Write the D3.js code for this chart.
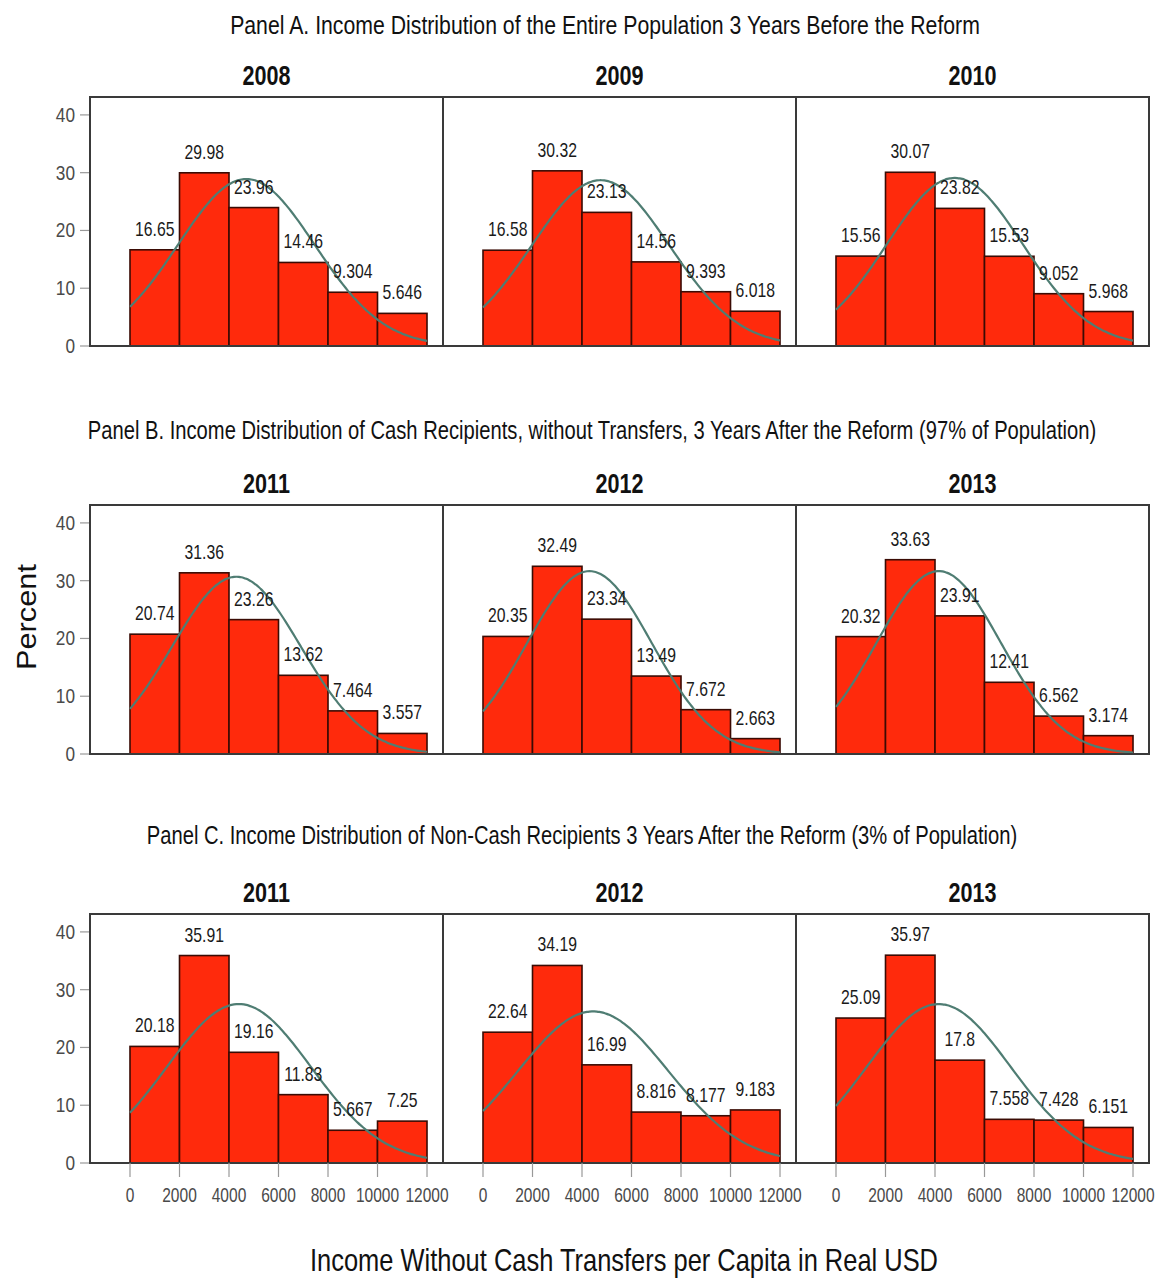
<!DOCTYPE html>
<html lang="en">
<head>
<meta charset="UTF-8">
<title>Income Distribution</title>
<script src="https://d3js.org/d3.v7.min.js"></script>
<style>
  body { margin: 0; background: #fff; }
  text { font-family: "Liberation Sans", Arial, sans-serif; }
</style>
</head>
<body>
<div id="chart"></div>
<script>
// ---- data ----
const binEdges = [0, 2000, 4000, 6000, 8000, 10000, 12000];
const xTicks = [0, 2000, 4000, 6000, 8000, 10000, 12000];
const yTicks = [0, 10, 20, 30, 40];

const panelTitles = [
  "Panel A. Income Distribution of the Entire Population 3 Years Before the Reform",
  "Panel B. Income Distribution of Cash Recipients, without Transfers, 3 Years After the Reform (97% of Population)",
  "Panel C. Income Distribution of Non-Cash Recipients 3 Years After the Reform (3% of Population)"
];
const yearsA = ["2008", "2009", "2010"];
const yearsB = ["2011", "2012", "2013"];
const yearsC = ["2011", "2012", "2013"];

const percentA = [
  [16.65, 29.98, 23.96, 14.46, 9.304, 5.646],
  [16.58, 30.32, 23.13, 14.56, 9.393, 6.018],
  [15.56, 30.07, 23.82, 15.53, 9.052, 5.968]
];
const percentB = [
  [20.74, 31.36, 23.26, 13.62, 7.464, 3.557],
  [20.35, 32.49, 23.34, 13.49, 7.672, 2.663],
  [20.32, 33.63, 23.91, 12.41, 6.562, 3.174]
];
const percentC = [
  [20.18, 35.91, 19.16, 11.83, 5.667, 7.25],
  [22.64, 34.19, 16.99, 8.816, 8.177, 9.183],
  [25.09, 35.97, 17.8, 7.558, 7.428, 6.151]
];

// fitted normal curves (mean, sd of income)
const curveMeanA = [4700, 4750, 4800];
const curveSdA = [2760, 2780, 2742];
const curveMeanB = [4300, 4300, 4150];
const curveSdB = [2600, 2520, 2520];
const curveMeanC = [4400, 4450, 4150];
const curveSdC = [2900, 3040, 2900];

const rows = [
  { title: panelTitles[0], years: yearsA, pct: percentA, mu: curveMeanA, sd: curveSdA },
  { title: panelTitles[1], years: yearsB, pct: percentB, mu: curveMeanB, sd: curveSdB },
  { title: panelTitles[2], years: yearsC, pct: percentC, mu: curveMeanC, sd: curveSdC }
];

// ---- layout ----
const W = 1164, H = 1278;
const facetLeft = 90, facetW = 353;
const rowTop = [97, 505, 914];
const rowH = 249;
const titleY = [34, 439, 844];
const titleCx = [605, 592, 582];
const titleLen = [750, 1009, 871];
const yearY = [84, 492, 901];

const svg = d3.select("#chart").append("svg")
  .attr("width", W).attr("height", H);

const x = d3.scaleLinear().domain([-1616, 12646]).range([0, facetW]);
const y = d3.scaleLinear().domain([0, 43.1]).range([rowH, 0]);

const binW = binEdges[1] - binEdges[0];
const density = (v, mu, sd) =>
  100 * binW * Math.exp(-((v - mu) ** 2) / (2 * sd * sd)) / (sd * Math.sqrt(2 * Math.PI));

// squeeze a text horizontally to a given width (condensed look of the original)
function fitWidth(sel, cx, cy, target, rot) {
  const len = sel.node().getComputedTextLength();
  const k = target / len;
  sel.attr("transform", `translate(${cx},${cy})${rot ? " rotate(" + rot + ")" : ""} scale(${k},1)`);
}

rows.forEach((row, r) => {
  // panel title
  const pt = svg.append("text")
    .attr("text-anchor", "middle")
    .attr("font-size", 26)
    .attr("fill", "#111")
    .text(row.title);
  fitWidth(pt, titleCx[r], titleY[r], titleLen[r]);

  // y axis (left of the row)
  const yAxisG = svg.append("g").attr("transform", `translate(${facetLeft},${rowTop[r]})`);
  yTicks.forEach(t => {
    yAxisG.append("line")
      .attr("x1", -10).attr("x2", 0)
      .attr("y1", y(t)).attr("y2", y(t))
      .attr("stroke", "#999").attr("stroke-width", 1.2);
    yAxisG.append("text")
      .attr("transform", `translate(-15,${y(t) + 7}) scale(0.82,1)`)
      .attr("text-anchor", "end")
      .attr("font-size", 21)
      .attr("fill", "#4a4a4a")
      .text(t);
  });

  row.years.forEach((yr, f) => {
    const g = svg.append("g")
      .attr("transform", `translate(${facetLeft + f * facetW},${rowTop[r]})`);

    // facet title
    g.append("text")
      .attr("transform", `translate(${facetW / 2},${yearY[r] - rowTop[r] + 1}) scale(0.8,1)`)
      .attr("text-anchor", "middle")
      .attr("font-size", 27)
      .attr("font-weight", "bold")
      .attr("fill", "#111")
      .text(yr);

    const bins = row.pct[f].map((v, i) => ({ x0: binEdges[i], x1: binEdges[i + 1], v }));

    g.selectAll("rect.bar").data(bins).enter().append("rect")
      .attr("class", "bar")
      .attr("x", d => x(d.x0))
      .attr("width", d => x(d.x1) - x(d.x0))
      .attr("y", d => y(d.v))
      .attr("height", d => y(0) - y(d.v))
      .attr("fill", "#ff2a0c")
      .attr("stroke", "#3a0b04")
      .attr("stroke-width", 1.6);

    const line = d3.line()
      .x(d => x(d))
      .y(d => y(density(d, row.mu[f], row.sd[f])))
      .curve(d3.curveBasis);
    g.append("path")
      .datum(d3.range(0, 12001, 100))
      .attr("d", line)
      .attr("fill", "none")
      .attr("stroke", "#4f7d73")
      .attr("stroke-width", 2.2);

    g.selectAll("text.lbl").data(bins).enter().append("text")
      .attr("class", "lbl")
      .attr("transform", d => `translate(${(x(d.x0) + x(d.x1)) / 2},${y(d.v) - 14}) scale(0.75,1)`)
      .attr("text-anchor", "middle")
      .attr("font-size", 21)
      .attr("fill", "#1a1a1a")
      .text(d => String(d.v));

    // facet frame
    g.append("rect")
      .attr("x", 0).attr("y", 0)
      .attr("width", facetW).attr("height", rowH)
      .attr("fill", "none")
      .attr("stroke", "#3a3a3a")
      .attr("stroke-width", 2);

    // x axis only on the bottom row
    if (r === rows.length - 1) {
      xTicks.forEach(t => {
        g.append("line")
          .attr("x1", x(t)).attr("x2", x(t))
          .attr("y1", rowH).attr("y2", rowH + 14)
          .attr("stroke", "#999").attr("stroke-width", 1.2);
        g.append("text")
          .attr("transform", `translate(${x(t)},${rowH + 39}) scale(0.74,1)`)
          .attr("text-anchor", "middle")
          .attr("font-size", 21)
          .attr("fill", "#4a4a4a")
          .text(t);
      });
    }
  });
});

// y axis title
const yt = svg.append("text")
  .attr("text-anchor", "middle")
  .attr("font-size", 27)
  .attr("fill", "#111")
  .text("Percent");
fitWidth(yt, 36, 617, 106, -90);

// x axis title
const xt = svg.append("text")
  .attr("text-anchor", "middle")
  .attr("font-size", 31)
  .attr("fill", "#111")
  .text("Income Without Cash Transfers per Capita in Real USD");
fitWidth(xt, 624, 1271, 628);
</script>
</body>
</html>
